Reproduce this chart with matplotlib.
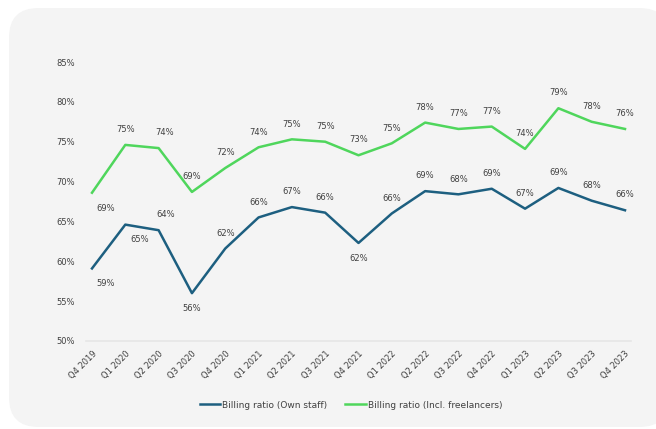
import matplotlib.pyplot as plt
from matplotlib.patches import FancyBboxPatch
import numpy as np

quarters = ['Q4 2019', 'Q1 2020', 'Q2 2020', 'Q3 2020', 'Q4 2020', 'Q1 2021', 'Q2 2021',
            'Q3 2021', 'Q4 2021', 'Q1 2022', 'Q2 2022', 'Q3 2022', 'Q4 2022', 'Q1 2023',
            'Q2 2023', 'Q3 2023', 'Q4 2023']
own_staff = [59.1, 64.6, 63.9, 56.0, 61.6, 65.5, 66.8, 66.1, 62.3, 66.0, 68.8, 68.4, 69.1,
             66.6, 69.2, 67.6, 66.4]
own_labels = ['59%', '65%', '64%', '56%', '62%', '66%', '67%', '66%', '62%', '66%', '69%',
              '68%', '69%', '67%', '69%', '68%', '66%']
own_below = [0, 1, 3, 8]
incl_free = [68.6, 74.6, 74.2, 68.7, 71.7, 74.3, 75.3, 75.0, 73.3, 74.8, 77.4, 76.6, 76.9,
             74.1, 79.2, 77.5, 76.6]
free_labels = ['69%', '75%', '74%', '69%', '72%', '74%', '75%', '75%', '73%', '75%', '78%',
               '77%', '77%', '74%', '79%', '78%', '76%']
free_below = [0]
# labels nudged sideways in the original
own_dx = {0: 10, 1: 10, 2: 5}
free_dx = {0: 10, 2: 4}

blue = '#1d5f80'
green = '#4fd65c'
txt = '#404040'

fig = plt.figure(figsize=(6.56, 4.29), dpi=100)
fig.patch.set_facecolor('white')
# card background
card = FancyBboxPatch((9 / 656, 2 / 429), 660 / 656, 419 / 429,
                      boxstyle='round,pad=0,rounding_size=0.045',
                      transform=fig.transFigure, facecolor='#f4f4f4', edgecolor='none',
                      mutation_aspect=656 / 429, zorder=-5)
fig.patches.append(card)

ax = fig.add_axes([86 / 656, (429 - 341) / 429, 545 / 656, 279 / 429])
ax.set_facecolor('none')
x = np.arange(len(quarters))
ax.plot(x, own_staff, color=blue, lw=1.8, label='Billing ratio (Own staff)')
ax.plot(x, incl_free, color=green, lw=1.8, label='Billing ratio (Incl. freelancers)')

for i in x:
    off = -11 if i in own_below else 11
    ax.annotate(own_labels[i], (i, own_staff[i]), xytext=(own_dx.get(i, 0), off),
                textcoords='offset points', ha='center', va='center', fontsize=6, color=txt)
    off = -11 if i in free_below else 11
    ax.annotate(free_labels[i], (i, incl_free[i]), xytext=(free_dx.get(i, 0), off),
                textcoords='offset points', ha='center', va='center', fontsize=6, color=txt)

ax.set_xlim(-0.18, len(quarters) - 0.82)
ax.set_ylim(50, 85)
ax.set_yticks(np.arange(50, 86, 5))
ax.set_yticklabels([f'{v}%' for v in range(50, 86, 5)], fontsize=6, color=txt)
ax.set_xticks(x)
ax.set_xticklabels(quarters, rotation=45, ha='right', rotation_mode='anchor', fontsize=6,
                   color=txt)
ax.tick_params(length=0, pad=6)
ax.tick_params(axis='y', pad=8)
for s in ['top', 'right', 'left']:
    ax.spines[s].set_visible(False)
ax.spines['bottom'].set_color('#e6e6e6')
ax.spines['bottom'].set_linewidth(1.2)

fig.legend(loc='center', bbox_to_anchor=(0.535, (429 - 405) / 429), ncol=2, frameon=False,
           fontsize=6.5, handlelength=2.3, handletextpad=0.2, columnspacing=2,
           labelcolor=txt)

fig.savefig('out.png', dpi=100)
